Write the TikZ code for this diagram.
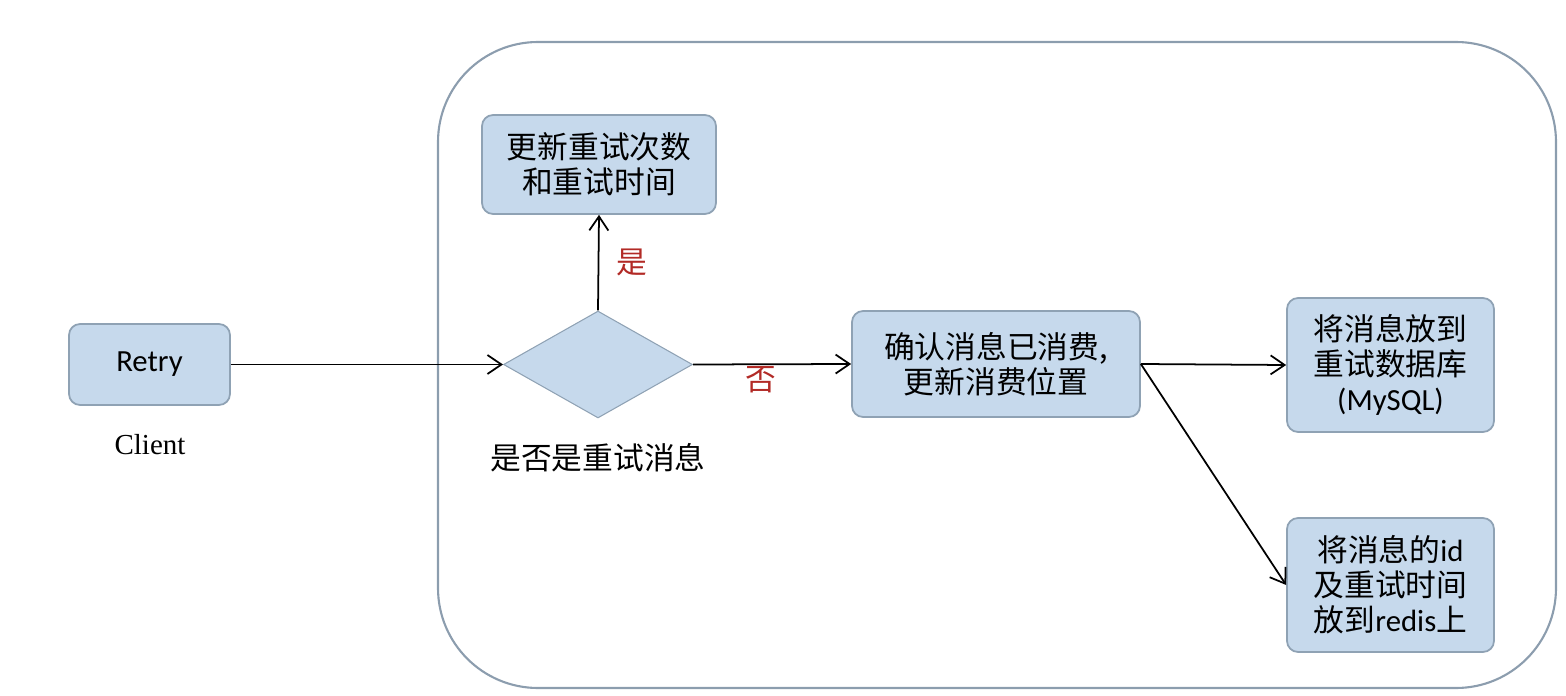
\documentclass[tikz,border=0pt]{standalone}
\usepackage{fontspec}
\setmainfont{Carlito}
\newfontfamily\cjk{Noto Sans CJK SC}
\newfontfamily\clientfont{Liberation Serif}
\usepackage{xcolor}
\usetikzlibrary{shapes.geometric,arrows.meta,positioning}
\definecolor{boxfill}{HTML}{C6D9EC}
\definecolor{boxline}{HTML}{8FA2B4}
\definecolor{frameline}{HTML}{8C9DAE}
\definecolor{labelred}{HTML}{B22A26}
\newcommand{\eng}[1]{{\rmfamily #1}}

\begin{document}
\begin{tikzpicture}[
    x=0.02cm, y=-0.02cm,
    box/.style={rectangle, draw=boxline, fill=boxfill, line width=1pt, rounded corners=0.22cm, align=center, inner sep=0pt, font=\cjk\fontsize{17.5}{20}\selectfont},
    decision/.style={diamond, draw=boxline, fill=boxfill, line width=0.6pt, minimum width=3.78cm, minimum height=2.14cm, inner sep=0pt},
    frame/.style={draw=frameline, line width=1.2pt, rounded corners=2cm},
    line/.style={draw, -{Straight Barb[length=2.8mm,width=3.8mm]}, line width=1pt},
    yesno/.style={text=labelred, font=\cjk\fontsize{17.5}{20}\selectfont}
]
\useasboundingbox (0,0) rectangle (1566,696);

% Container
\draw [frame] (438,42) rectangle (1556,688);

% Nodes
\node [box, font=\rmfamily\fontsize{17.5}{20}\selectfont, minimum width=3.22cm, minimum height=1.62cm] (retry) at (149.5,364.5) {Retry};
\node [font=\clientfont\fontsize{16.5}{18}\selectfont] (client) at (150,445) {Client};
\node [decision] (check) at (598,364.5) {};
\node [font=\cjk\fontsize{17.5}{20}\selectfont] (checklabel) at (598,458) {是否是重试消息};
\node [box, minimum width=4.68cm, minimum height=1.98cm] (update) at (599,164.5) {更新重试次数\\和重试时间};
\node [box, minimum width=5.76cm, minimum height=2.12cm] (confirm) at (996,364) {确认消息已消费,\\更新消费位置};
\node [box, minimum width=4.14cm, minimum height=2.68cm] (mysql) at (1390.5,365) {将消息放到\\重试数据库\\\eng{(MySQL)}};
\node [box, minimum width=4.14cm, minimum height=2.68cm] (redis) at (1390.5,585) {将消息的\eng{id}\\及重试时间\\放到\eng{redis}上};

% Connectors
\path [line] (retry) -- (check.west);
\path [line] (check.north) -- node [yesno, right=0.22cm] (yes) {是} (update.south);
\path [line] (check.east) -- node [yesno, below=-0.1cm, pos=0.43] (no) {否} (confirm.west);
\path [line] (confirm.east) -- (mysql.west);
\path [line] (confirm.east) -- (redis.west);

\end{tikzpicture}
\end{document}
